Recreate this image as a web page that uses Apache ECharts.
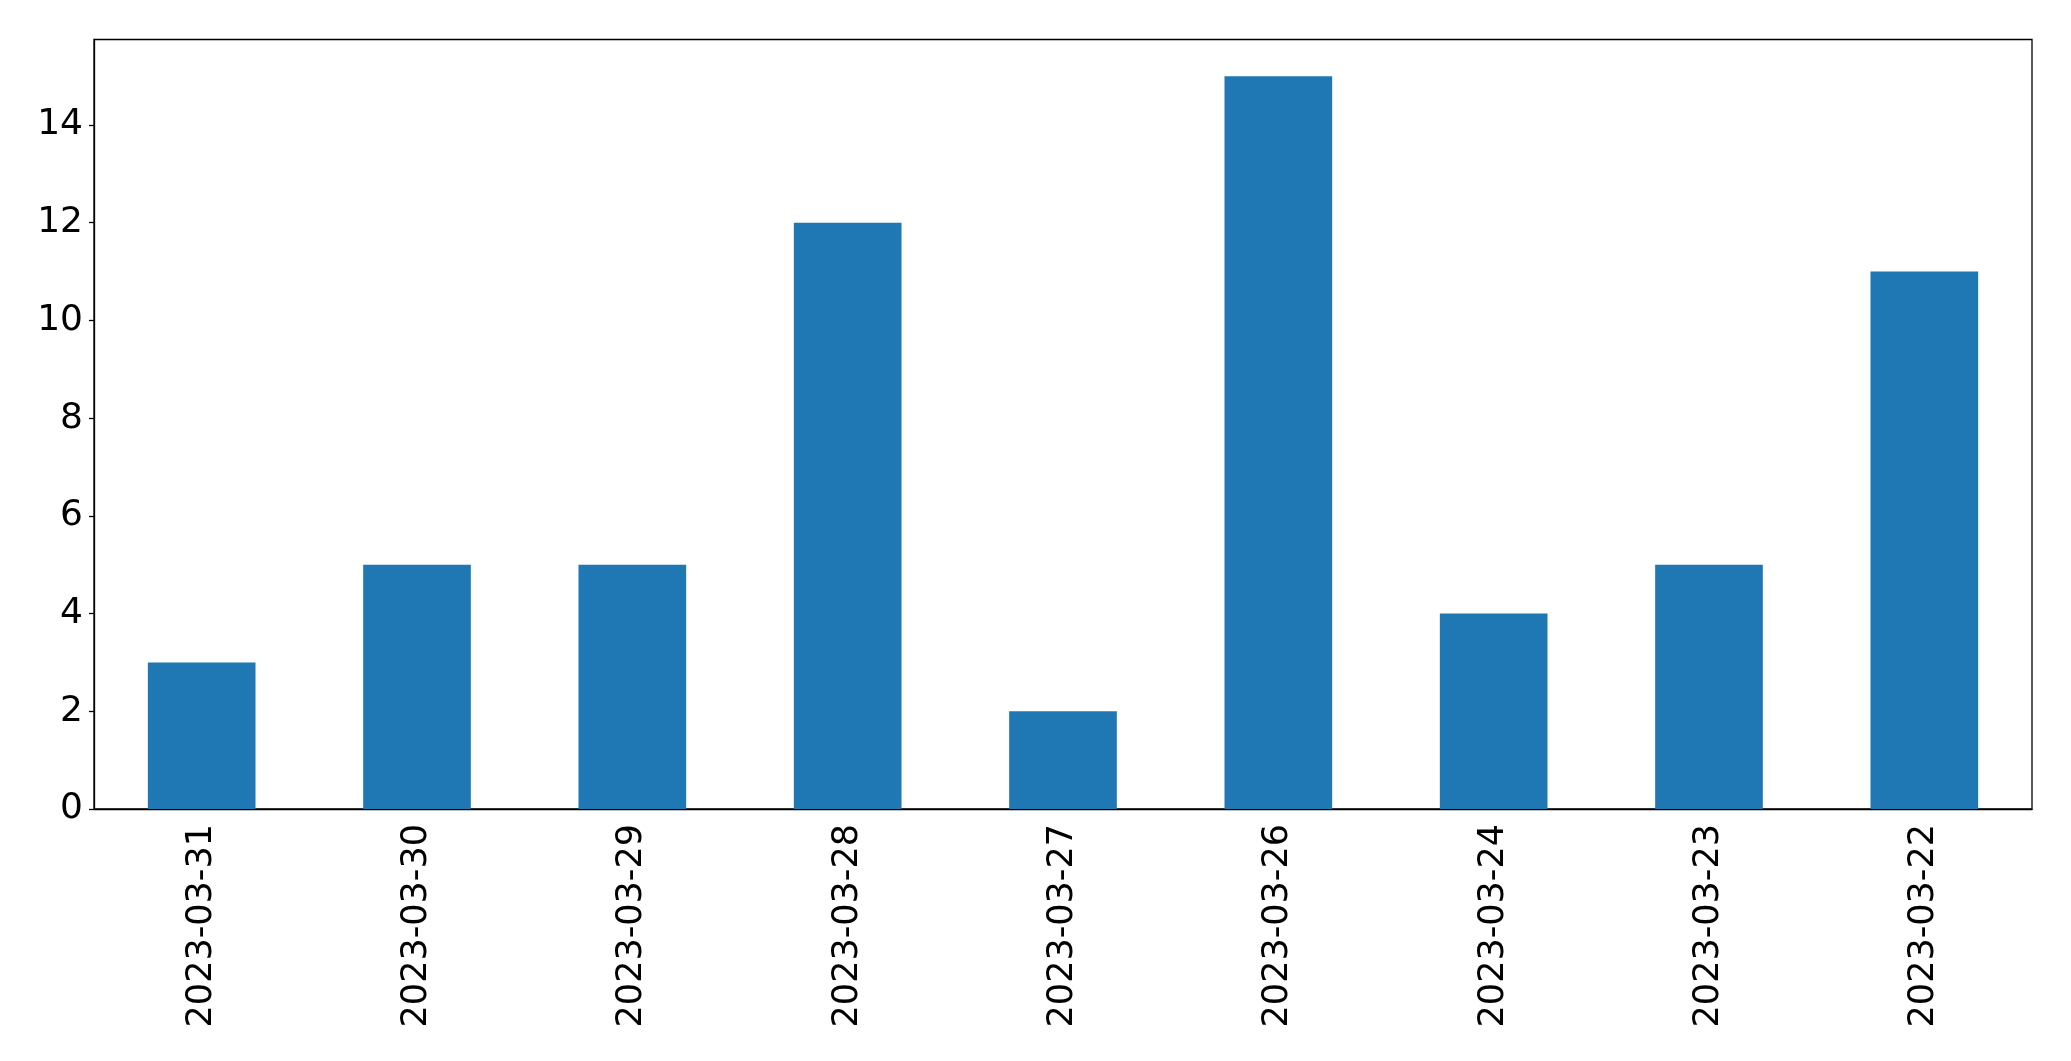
<!DOCTYPE html>
<html>
<head>
<meta charset="utf-8">
<script src="https://cdn.jsdelivr.net/npm/echarts@6/dist/echarts.min.js"></script>
<style>html,body{margin:0;padding:0;background:#fff}#c{width:2071px;height:1061px}</style>
</head>
<body>
<div id="c"></div>
<script>
const categories = ["2023-03-31","2023-03-30","2023-03-29","2023-03-28","2023-03-27","2023-03-26","2023-03-24","2023-03-23","2023-03-22"];
const values = [3,5,5,12,2,15,4,5,11];
const yTicks = [0,2,4,6,8,10,12,14];

const chart = echarts.init(document.getElementById('c'), null, {renderer:'canvas'});
chart.setOption({
  animation: false,
  grid: {left: 94, right: 39, top: 39.5, bottom: 252, show: true, borderColor: '#000', borderWidth: 1.3, containLabel: false},
  xAxis: {
    type: 'category', data: categories,
    axisLine: {lineStyle: {color: '#000', width: 1.3}},
    axisTick: {alignWithLabel: true, length: 5, lineStyle: {color: '#000', width: 1.3}},
    axisLabel: {rotate: 90, fontSize: 35, fontFamily: 'DejaVu Sans', color: '#000', margin: 15, interval: 0}
  },
  yAxis: {
    type: 'value', min: 0, max: 15.75, interval: 2,
    splitLine: {show: false},
    axisLine: {show: true, lineStyle: {color: '#000', width: 1.3}},
    axisTick: {show: true, length: 5, customValues: yTicks, lineStyle: {color: '#000', width: 1.3}},
    axisLabel: {fontSize: 36, fontFamily: 'DejaVu Sans', color: '#000', margin: 11, customValues: yTicks}
  },
  series: [{type: 'bar', data: values, barWidth: '50%', itemStyle: {color: '#1f77b4'}}]
});
</script>
</body>
</html>
